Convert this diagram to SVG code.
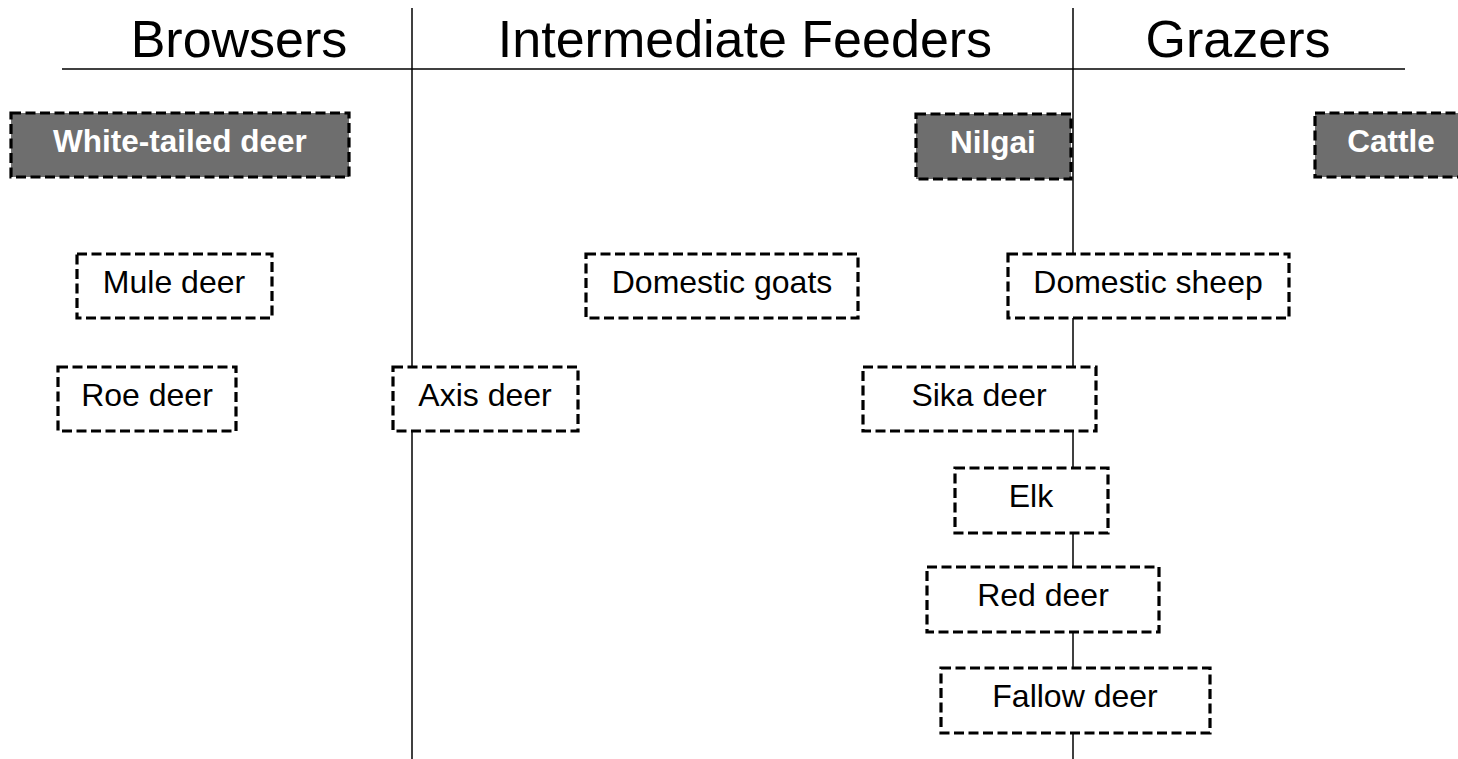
<svg xmlns="http://www.w3.org/2000/svg" width="1458" height="759" viewBox="0 0 1458 759">
<style>
.hdr{font-family:"Liberation Sans",Arial,sans-serif;font-size:52px;fill:#000;text-anchor:middle}
.box{fill:#fff;stroke:#000;stroke-width:3.2;stroke-dasharray:10 4.5}
.dark{fill:#6e6e6e;stroke:#000;stroke-width:3.2;stroke-dasharray:10 4.5}
.t{font-family:"Liberation Sans",Arial,sans-serif;font-size:32px;fill:#000;text-anchor:middle}
.tw{font-family:"Liberation Sans",Arial,sans-serif;font-size:31.5px;font-weight:bold;fill:#fff;text-anchor:middle}
.ln{stroke:#000;stroke-width:1.5;fill:none}
</style>
<rect width="1458" height="759" fill="#fff"/>
<g id="connectors">
<line class="ln" x1="412" y1="8" x2="412" y2="759"/>
<line class="ln" x1="1073" y1="8" x2="1073" y2="759"/>
<line class="ln" x1="62" y1="69" x2="1405" y2="69"/>
</g>
<g id="headers">
<text class="hdr" x="239" y="57">Browsers</text>
<text class="hdr" x="745" y="57">Intermediate Feeders</text>
<text class="hdr" x="1238" y="57">Grazers</text>
</g>
<g id="white-tailed-deer"><rect class="dark" x="11" y="113" width="338" height="64"/><text class="tw" x="180" y="152">White-tailed deer</text></g>
<g id="nilgai"><rect class="dark" x="916" y="114" width="155" height="65"/><text class="tw" x="993" y="153">Nilgai</text></g>
<g id="cattle"><rect class="dark" x="1315" y="113" width="160" height="64"/><text class="tw" x="1391" y="152">Cattle</text></g>
<g id="mule-deer"><rect class="box" x="77" y="254" width="195" height="64"/><text class="t" x="174" y="293">Mule deer</text></g>
<g id="roe-deer"><rect class="box" x="58" y="367" width="178" height="64"/><text class="t" x="147" y="406">Roe deer</text></g>
<g id="domestic-goats"><rect class="box" x="586" y="254" width="272" height="64"/><text class="t" x="722" y="293">Domestic goats</text></g>
<g id="axis-deer"><rect class="box" x="393" y="367" width="185" height="64"/><text class="t" x="485" y="406">Axis deer</text></g>
<g id="domestic-sheep"><rect class="box" x="1008" y="254" width="281" height="64"/><text class="t" x="1148" y="293">Domestic sheep</text></g>
<g id="sika-deer"><rect class="box" x="863" y="367" width="233" height="64"/><text class="t" x="979" y="406">Sika deer</text></g>
<g id="elk"><rect class="box" x="955" y="468" width="153" height="65"/><text class="t" x="1031" y="507">Elk</text></g>
<g id="red-deer"><rect class="box" x="927" y="567" width="232" height="65"/><text class="t" x="1043" y="606">Red deer</text></g>
<g id="fallow-deer"><rect class="box" x="941" y="668" width="269" height="65"/><text class="t" x="1075" y="707">Fallow deer</text></g>
</svg>
